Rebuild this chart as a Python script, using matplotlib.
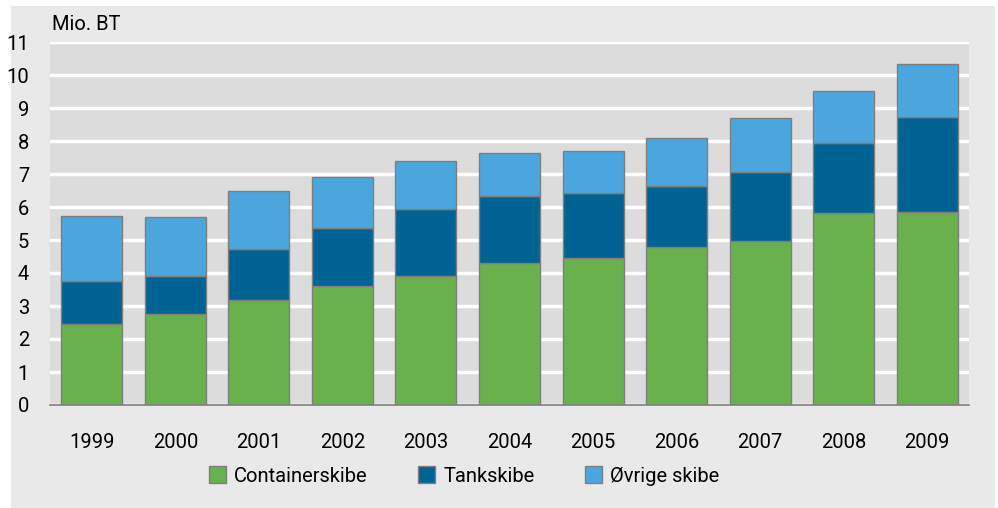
import matplotlib.pyplot as plt
from matplotlib.patches import Rectangle

plt.rcParams['font.family'] = ['Roboto', 'DejaVu Sans']

years = ['1999', '2000', '2001', '2002', '2003', '2004', '2005', '2006', '2007', '2008', '2009']
# cumulative tops, converted to segment heights below
container = [2.45, 2.76, 3.17, 3.60, 3.90, 4.30, 4.45, 4.78, 4.98, 5.83, 5.86]
tank_top = [3.76, 3.90, 4.72, 5.35, 5.95, 6.32, 6.42, 6.65, 7.05, 7.94, 8.73]
total_top = [5.73, 5.70, 6.47, 6.92, 7.38, 7.65, 7.70, 8.10, 8.70, 9.52, 10.33]

tank = [t - c for t, c in zip(tank_top, container)]
other = [s - t for s, t in zip(total_top, tank_top)]

green = '#69b14d'
dark = '#006393'
light = '#4aa6dc'
edge = '#7f7f7f'

W, H = 998, 508
fig = plt.figure(figsize=(W / 100, H / 100), dpi=100)
fig.patch.set_facecolor('white')
# grey panel behind everything
fig.patches.append(Rectangle((11 / W, 0), (995 - 11) / W, (H - 6) / H,
                             transform=fig.transFigure, facecolor='#e9e9e9',
                             edgecolor='none', zorder=-10))

ax = fig.add_axes([50 / W, (H - 405) / H, 919 / W, 363 / H])
ax.set_facecolor('#dcdcdc')

x = range(len(years))
bw = 0.73
ax.bar(x, container, bw, color=green, edgecolor=edge, linewidth=1, label='Containerskibe', zorder=3)
ax.bar(x, tank, bw, bottom=container, color=dark, edgecolor=edge, linewidth=1, label='Tankskibe', zorder=3)
ax.bar(x, other, bw, bottom=tank_top, color=light, edgecolor=edge, linewidth=1, label='Øvrige skibe', zorder=3)

ax.set_xlim(-0.5, len(years) - 0.5)
ax.set_ylim(0, 11)
ax.set_yticks(range(0, 12))
ax.set_xticks(list(x))
ax.set_xticklabels(years)
ax.yaxis.grid(True, color='white', linewidth=2.5, zorder=0)
ax.set_axisbelow(True)
for s in ['top', 'right', 'left']:
    ax.spines[s].set_visible(False)
ax.spines['bottom'].set_color(edge)
ax.spines['bottom'].set_linewidth(1.2)
ax.spines['bottom'].set_zorder(4)
ax.tick_params(axis='both', length=0, labelsize=14.5, colors='black')
ax.tick_params(axis='y', pad=15)
ax.tick_params(axis='x', pad=20)

fig.text(52 / W, 1 - 25 / H, 'Mio. BT', fontsize=14.5, va='center', ha='left')

fig.legend(loc='center', bbox_to_anchor=(464 / W, 1 - 476 / H), ncol=3, frameon=False,
           fontsize=14.5, handlelength=0.85, handleheight=0.85, handletextpad=0.4,
           columnspacing=2.5)

fig.savefig('out.png', dpi=100, facecolor=fig.get_facecolor())
